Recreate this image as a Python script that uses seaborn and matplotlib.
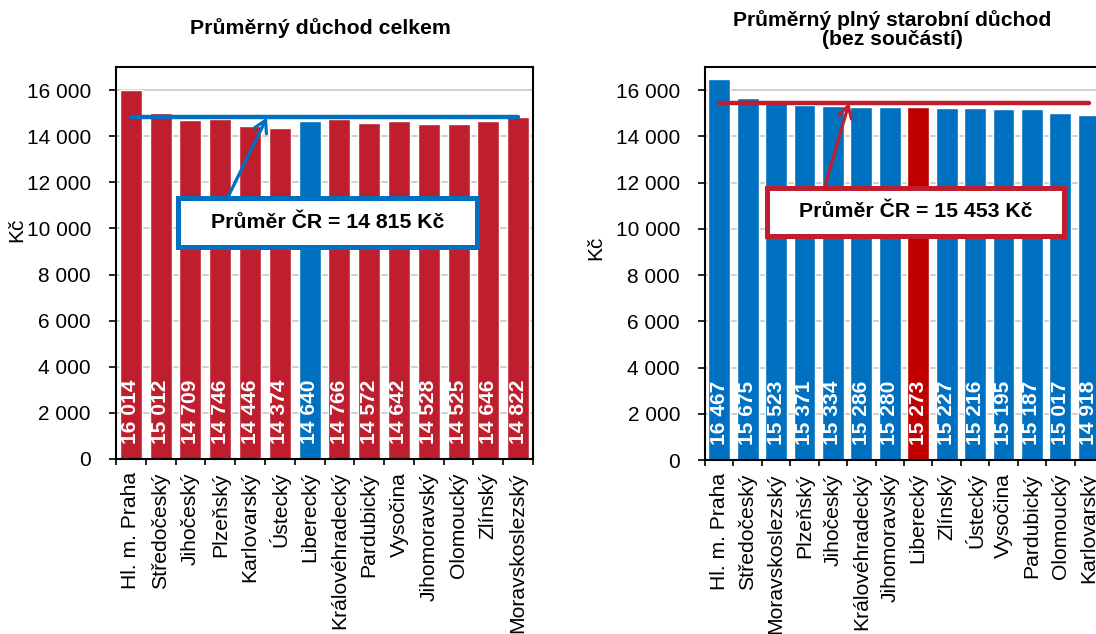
import matplotlib
matplotlib.use("Agg")
import matplotlib.pyplot as plt
from matplotlib.patches import Rectangle
import seaborn as sns
import pandas as pd

# ---- data ----
left_regions = ["Hl. m. Praha", "Středočeský", "Jihočeský", "Plzeňský", "Karlovarský",
                "Ústecký", "Liberecký", "Královéhradecký", "Pardubický", "Vysočina",
                "Jihomoravský", "Olomoucký", "Zlínský", "Moravskoslezský"]
left_values = [16014, 15012, 14709, 14746, 14446, 14374, 14640, 14766, 14572, 14642,
               14528, 14525, 14646, 14822]
left_avg = 14815

right_regions = ["Hl. m. Praha", "Středočeský", "Moravskoslezský", "Plzeňský", "Jihočeský",
                 "Královéhradecký", "Jihomoravský", "Liberecký", "Zlínský", "Ústecký",
                 "Vysočina", "Pardubický", "Olomoucký", "Karlovarský"]
right_values = [16467, 15675, 15523, 15371, 15334, 15286, 15280, 15273, 15227, 15216,
                15195, 15187, 15017, 14918]
right_avg = 15453

highlight = "Liberecký"
left_title = "Průměrný důchod celkem"
right_title = "Průměrný plný starobní důchod\n(bez součástí)"
y_ticks = [0, 2000, 4000, 6000, 8000, 10000, 12000, 14000, 16000]
y_tick_labels = ["0", "2 000", "4 000", "6 000", "8 000", "10 000", "12 000", "14 000", "16 000"]
y_label = "Kč"

RED = "#BE1E2D"
RED2 = "#C00000"
BLUE = "#0070C0"

sns.set_theme(style="white")
plt.rcParams["font.family"] = ["Liberation Sans", "DejaVu Sans"]
plt.rcParams["text.color"] = "black"
plt.rcParams["xtick.color"] = "black"
plt.rcParams["ytick.color"] = "black"
plt.rcParams["xtick.labelcolor"] = "black"
plt.rcParams["ytick.labelcolor"] = "black"

W, H = 1096, 634
fig = plt.figure(figsize=(W / 100, H / 100), dpi=100)


def fmt(v):
    return f"{v:,}".replace(",", " ")


def panel(rect, regions, values, avg, base_color, hi_color, line_color,
          box_x, box_y, arrow_start, arrow_tip_x, label_x, label_y, bar_w):
    ax = fig.add_axes(rect)
    df = pd.DataFrame({"region": regions, "value": values})
    pal = {r: (hi_color if r == highlight else base_color) for r in regions}
    sns.barplot(data=df, x="region", y="value", hue="region", palette=pal,
                legend=False, width=bar_w, saturation=1, ax=ax, zorder=2)
    n = len(regions)
    ax.set_xlim(-0.5, n - 0.5)
    ax.set_ylim(0, 17000)
    ax.set_yticks(y_ticks)
    ax.set_yticklabels(y_tick_labels, fontsize=15)
    ax.yaxis.grid(True, color="#C8C8C8", lw=1.2, zorder=0)
    ax.set_axisbelow(True)
    ax.tick_params(axis="y", length=5, width=1.2, direction="out", pad=13, left=True)
    ax.set_xticks(range(n))
    ax.set_xticklabels(regions, rotation=90, fontsize=15.2, va="top", ha="center")
    ax.set_xticks([i - 0.5 for i in range(n + 1)], minor=True)
    ax.tick_params(axis="x", which="major", length=0, pad=9.5)
    ax.tick_params(axis="x", which="minor", length=4, width=1.2, direction="out", bottom=True)
    for s in ax.spines.values():
        s.set_color("black")
        s.set_linewidth(1.5)
    ax.set_xlabel("")
    ax.set_ylabel("")
    fig.text(label_x / W, 1 - label_y / H, y_label, rotation=90, fontsize=15,
             ha="center", va="center")
    # value labels
    for i, v in enumerate(values):
        ax.text(i, 650, fmt(v), rotation=90, color="white", fontweight="bold",
                fontsize=15.1, ha="center", va="bottom", zorder=4)
    # average line
    ax.plot([0, n - 1], [avg, avg], color=line_color, lw=3.2, zorder=5,
            solid_capstyle="round")
    # arrow
    ax.annotate("", xy=(arrow_tip_x, avg), xytext=arrow_start,
                arrowprops=dict(arrowstyle="->,head_length=0.7,head_width=0.4",
                                color=line_color, lw=2.3, shrinkA=0, shrinkB=0),
                zorder=6)
    # box
    rect_p = Rectangle((box_x[0], box_y[0]), box_x[1] - box_x[0], box_y[1] - box_y[0],
                       facecolor="white", edgecolor=line_color, lw=3.6, zorder=7)
    ax.add_patch(rect_p)
    ax.text((box_x[0] + box_x[1]) / 2, (box_y[0] + box_y[1]) / 2,
            f"Průměr ČR = {fmt(avg)} Kč", ha="center", va="center",
            fontsize=15.3, fontweight="bold", zorder=8)
    return ax


axL = panel([116 / W, (H - 459) / H, 417 / W, 392 / H], left_regions, left_values,
            left_avg, RED, BLUE, BLUE,
            box_x=(1.58, 11.62), box_y=(9194, 11319), arrow_start=(3.26, 11362),
            arrow_tip_x=4.57, label_x=17, label_y=230, bar_w=0.74)
axR = panel([705 / W, (H - 460) / H, 398 / W, 393 / H], right_regions, right_values,
            right_avg, BLUE, RED2, RED,
            box_x=(1.68, 12.14), box_y=(9690, 11766), arrow_start=(3.73, 11896),
            arrow_tip_x=4.57, label_x=596, label_y=248, bar_w=0.77)

fig.text(320 / W, 1 - 28 / H, left_title, ha="center", va="center",
         fontsize=15.3, fontweight="bold")
fig.text(892 / W, 1 - 29.5 / H, right_title, ha="center", va="center",
         fontsize=15.2, fontweight="bold", linespacing=1.0)

fig.savefig("out.png", dpi=100)
